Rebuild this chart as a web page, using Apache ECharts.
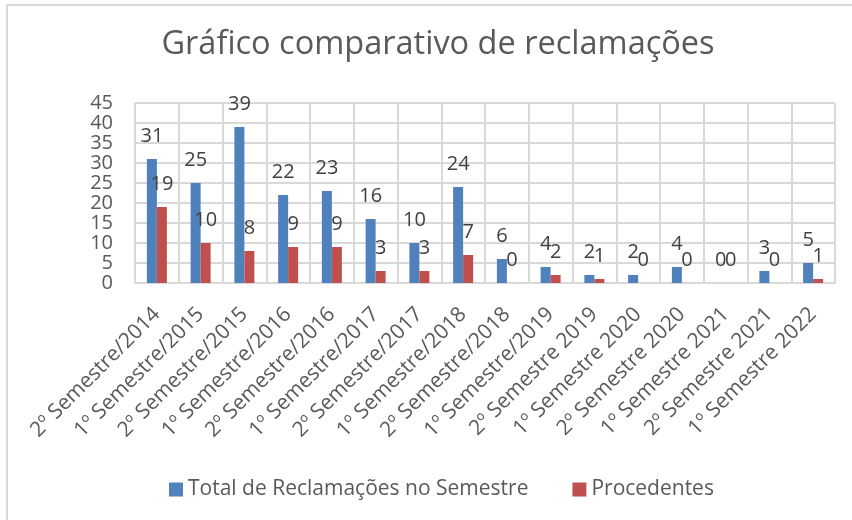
<!DOCTYPE html>
<html>
<head>
<meta charset="utf-8">
<script src="https://cdn.jsdelivr.net/npm/echarts@6/dist/echarts.min.js"></script>
<style>
html,body{margin:0;padding:0;background:#fff;}
#chart{width:852px;height:520px;}
</style>
</head>
<body>
<div id="chart"></div>
<script>
const categories = [
  "2º Semestre/2014", "1º Semestre/2015", "2º Semestre/2015", "1º Semestre/2016",
  "2º Semestre/2016", "1º Semestre/2017", "2º Semestre/2017", "1º Semestre/2018",
  "2º Semestre/2018", "1º Semestre/2019", "2º Semestre 2019", "1º Semestre 2020",
  "2º Semestre 2020", "1º Semestre 2021", "2º Semestre 2021", "1º Semestre 2022"
];
const totalReclamacoes = [31, 25, 39, 22, 23, 16, 10, 24, 6, 4, 2, 2, 4, 0, 3, 5];
const procedentes = [19, 10, 8, 9, 9, 3, 3, 7, 0, 2, 1, 0, 0, 0, 0, 1];
const yTicks = { min: 0, max: 45, interval: 5 };
const seriesNames = ["Total de Reclamações no Semestre", "Procedentes"];
const titleText = "Gráfico comparativo de reclamações";

const FONT = "Open Sans";
const chart = echarts.init(document.getElementById('chart'), null, { renderer: 'canvas' });
const labelStyle = { show: true, position: 'top', distance: 13, color: '#404040', fontSize: 20, fontFamily: FONT };

chart.setOption({
  animation: false,
  backgroundColor: '#ffffff',
  textStyle: { fontFamily: FONT },
  title: {
    text: titleText,
    left: 433, top: 23, textAlign: 'center',
    textStyle: { color: '#595959', fontSize: 32.5, fontWeight: 'normal', fontFamily: FONT }
  },
  legend: {
    data: seriesNames,
    left: 164, top: 474,
    itemWidth: 14, itemHeight: 14, itemGap: 44,
    icon: 'rect',
    textStyle: { color: '#595959', fontSize: 21, fontFamily: FONT }
  },
  grid: { left: 135, right: 17, top: 103, bottom: 237, containLabel: false },
  xAxis: {
    type: 'category',
    data: categories,
    axisLine: { show: true, lineStyle: { color: '#d9d9d9', width: 2 } },
    axisTick: { show: false },
    splitLine: { show: true, lineStyle: { color: '#d9d9d9', width: 2 } },
    axisLabel: { rotate: 45, interval: 0, color: '#595959', fontSize: 21, fontFamily: FONT, margin: 28 }
  },
  yAxis: {
    type: 'value',
    min: yTicks.min, max: yTicks.max, interval: yTicks.interval,
    axisLine: { show: false },
    axisTick: { show: false },
    splitLine: { show: true, lineStyle: { color: '#d9d9d9', width: 2 } },
    axisLabel: { color: '#595959', fontSize: 20, fontFamily: FONT, margin: 22 }
  },
  series: [
    {
      name: seriesNames[0], type: 'bar', data: totalReclamacoes,
      barWidth: 10, barGap: '0%',
      itemStyle: { color: '#4f81bd' },
      label: labelStyle
    },
    {
      name: seriesNames[1], type: 'bar', data: procedentes,
      barWidth: 10, barGap: '0%',
      itemStyle: { color: '#c0504d' },
      label: labelStyle
    }
  ],
  graphic: [
    { type: 'line', shape: { x1: 7, y1: 5, x2: 7, y2: 520 }, style: { stroke: '#d9d9d9', lineWidth: 2 } },
    { type: 'line', shape: { x1: 7, y1: 5, x2: 852, y2: 5 }, style: { stroke: '#d9d9d9', lineWidth: 2 } }
  ]
});
</script>
</body>
</html>
